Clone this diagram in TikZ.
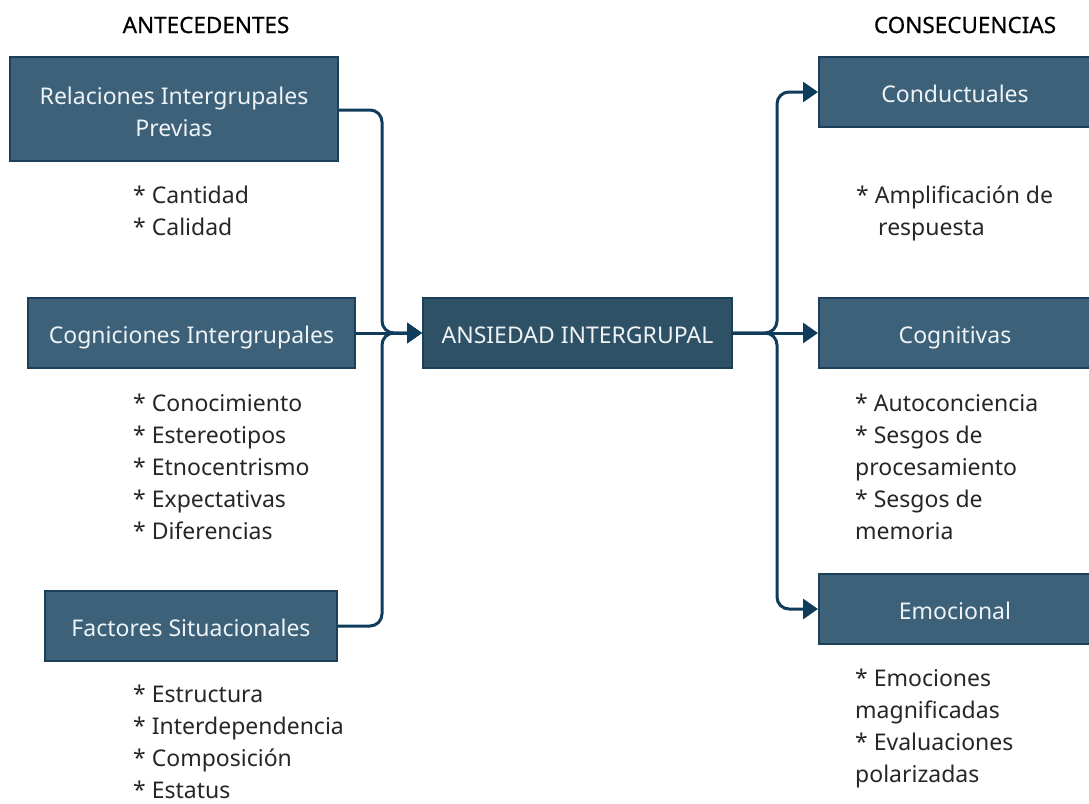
\documentclass[tikz,border=0pt]{standalone}
\usepackage{fontspec}
\setmainfont{Noto Sans}
\newfontfamily\headfont[FakeBold=0.5]{Noto Sans}
\usetikzlibrary{arrows.meta,positioning}
\definecolor{boxfill}{HTML}{3D6179}
\definecolor{boxdraw}{HTML}{1C3F5A}
\definecolor{centfill}{HTML}{2E5166}
\definecolor{linecol}{HTML}{0F3C5B}
\definecolor{boxtext}{HTML}{EEF3F6}
\definecolor{bodytext}{HTML}{262626}
\tikzset{
  x=1pt, y=-1pt,
  catbox/.style={draw=boxdraw, line width=2pt, fill=boxfill, text=boxtext, align=center,
    font=\fontsize{23}{32}\selectfont, inner sep=0pt, minimum height=70pt,
    text height=21pt, text depth=0pt},
  centbox/.style={catbox, fill=centfill},
  boxlabel/.style={text=boxtext, align=center, inner sep=0pt, font=\fontsize{23}{32}\selectfont},
  items/.style={anchor=base west, align=left, inner sep=0pt, text=bodytext,
    font=\fontsize{23}{32}\selectfont},
  head/.style={text=black, font=\headfont\fontsize{22.5}{25}\selectfont, inner sep=0pt},
  conn/.style={draw=linecol, line width=3pt, rounded corners=12pt},
  arr/.style={conn, -{Triangle[length=15pt,width=20pt]}}
}
\begin{document}
\begin{tikzpicture}
\useasboundingbox (0,0) rectangle (1089,803);
\begin{scope}
\clip (0,0) rectangle (1089,803);
% headers
\node[head] (hA) at (206,25) {ANTECEDENTES};
\node[head] (hC) at (965,25) {CONSECUENCIAS};
% left boxes
\node[catbox, minimum width=328pt, minimum height=104pt] (rel) at (174,109) {};
\node[boxlabel] (relt) at ([yshift=-3pt]rel.center) {Relaciones Intergrupales\\Previas};
\node[catbox, minimum width=327pt] (cog) at (191.5,333) {Cogniciones Intergrupales};
\node[catbox, minimum width=292pt] (fac) at (191,626) {Factores Situacionales};
% center
\node[centbox, minimum width=309pt] (ans) at (577.5,333) {ANSIEDAD INTERGRUPAL};
% right boxes
\node[catbox, minimum width=272pt] (con) at (955,92) {Conductuales};
\node[catbox, minimum width=272pt] (cgt) at (955,333) {Cognitivas};
\node[catbox, minimum width=272pt] (emo) at (955,609) {Emocional};
% item lists (anchor = baseline of last line)
\node[items] (li1) at (133,235) {* Cantidad\\* Calidad};
\node[items] (li2) at (133,539) {* Conocimiento\\* Estereotipos\\* Etnocentrismo\\* Expectativas\\* Diferencias};
\node[items] (li3) at (133,798) {* Estructura\\* Interdependencia\\* Composición\\* Estatus};
\node[items] (ri1) at (856,235.5) {* Amplificación de\\\hspace*{22pt}respuesta};
\node[items] (ri2) at (855,539) {* Autoconciencia\\* Sesgos de\\procesamiento\\* Sesgos de\\memoria};
\node[items] (ri3) at (855,782) {* Emociones\\magnificadas\\* Evaluaciones\\polarizadas};
% connectors
\draw[arr] ([yshift=-1pt]rel.east) -- ++(43,0) |- (ans.west);
\draw[arr] (fac.east) -- ++(44,0) |- (ans.west);
\draw[arr] (cog.east) -- (ans.west);
\draw[arr] (ans.east) -- ++(44,0) |- (con.west);
\draw[arr] (ans.east) -- ++(44,0) |- (emo.west);
\draw[arr] (ans.east) -- (cgt.west);
\end{scope}
\end{tikzpicture}
\end{document}
